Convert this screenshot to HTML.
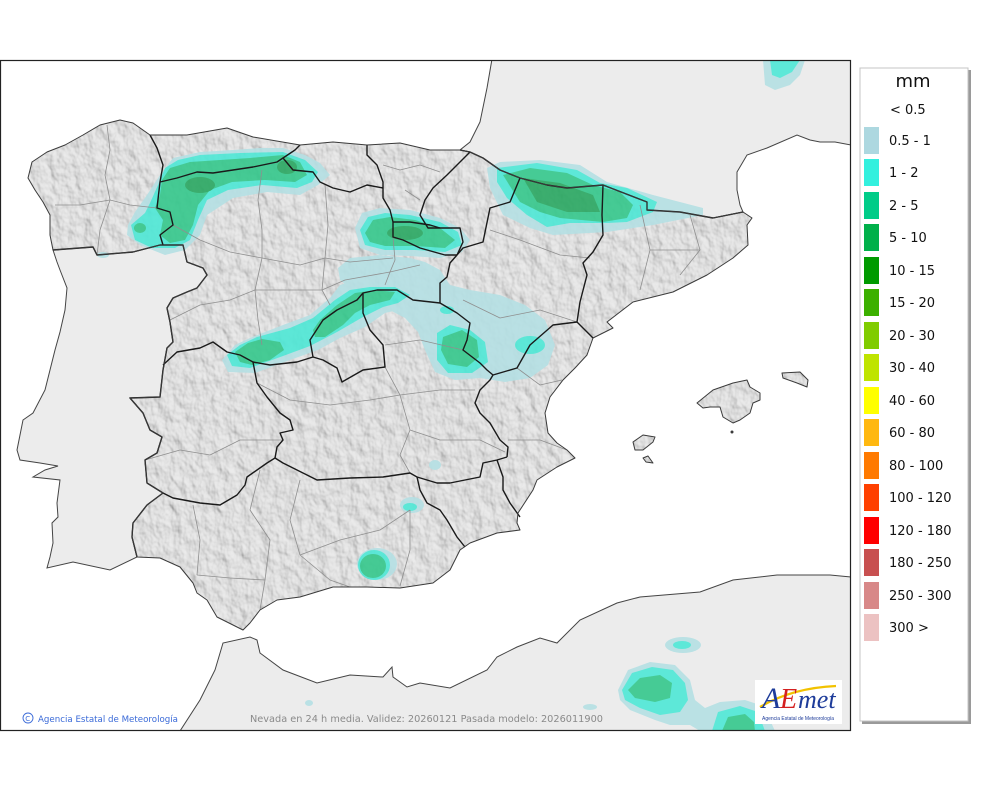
<!DOCTYPE html>
<html><head><meta charset="utf-8"><style>
html,body{margin:0;padding:0;background:#fff;}
svg{display:block;}
</style></head><body>
<svg width="1000" height="790" viewBox="0 0 1000 790" xmlns="http://www.w3.org/2000/svg">
<defs>
<clipPath id="frame"><rect x="1" y="60" width="850" height="670"/></clipPath>
<clipPath id="esclip">
<path id="spainP" d="M28,178 L32,162 L47,152 L65,145 L83,135 L100,125 L120,120 L133,123 L150,135 L160,135 L187,135 L227,128 L253,137 L300,145 L333,142 L367,145 L400,143 L430,150 L460,150 L470,152 L483,158 L500,170 L520,178 L547,185 L567,188 L603,185 L647,202 L647,210 L680,212 L713,218 L743,212 L752,218 L747,225 L748,245 L733,258 L707,275 L673,292 L633,302 L607,322 L613,328 L593,338 L587,355 L575,368 L563,380 L550,397 L545,413 L548,433 L557,443 L567,450 L575,458 L557,467 L537,480 L533,490 L518,513 L517,523 L520,530 L497,533 L470,543 L460,550 L450,570 L433,583 L400,588 L367,587 L333,587 L300,597 L277,600 L260,610 L250,623 L243,630 L217,617 L207,600 L197,593 L193,583 L180,567 L160,558 L137,557 L132,537 L133,523 L147,505 L163,493 L147,483 L145,460 L157,453 L162,437 L150,430 L143,413 L130,398 L160,397 L163,370 L167,348 L173,342 L170,322 L167,308 L173,298 L187,292 L197,288 L207,275 L203,268 L187,262 L183,245 L160,245 L133,252 L97,255 L93,247 L53,250 L50,235 L50,215 L43,202 L35,190 Z"/>
<path d="M697,403 L713,390 L733,383 L747,380 L750,387 L760,393 L760,400 L753,403 L750,413 L740,420 L733,423 L723,417 L720,407 L710,407 L703,408 Z"/>
<path d="M782,373 L800,372 L808,380 L807,387 L797,383 L783,378 Z"/>
<path d="M633,442 L643,435 L655,437 L653,442 L643,450 L635,450 Z"/>
<path d="M643,458 L648,456 L653,463 L646,462 Z"/>
</clipPath>
<filter id="hs" x="0" y="0" width="1000" height="790" filterUnits="userSpaceOnUse">
<feTurbulence type="fractalNoise" baseFrequency="0.09 0.07" numOctaves="3" seed="7"/>
<feDiffuseLighting surfaceScale="3" lighting-color="#ffffff" diffuseConstant="1"><feDistantLight azimuth="315" elevation="50"/></feDiffuseLighting>
</filter>
</defs>

<rect width="1000" height="790" fill="#fff"/>

<g clip-path="url(#frame)">
<!-- foreign land -->
<g fill="#ececec" stroke="#444" stroke-width="1">
<path d="M53,250 L93,247 L97,255 L133,252 L160,245 L183,245 L187,262 L203,268 L207,275 L197,288 L187,292 L173,298 L167,308 L170,322 L173,342 L167,348 L163,370 L160,397 L130,398 L143,413 L150,430 L162,437 L157,453 L145,460 L147,483 L163,493 L147,505 L133,523 L132,537 L137,557 L110,570 L73,562 L47,568 L50,557 L53,543 L52,523 L58,517 L57,503 L60,480 L33,477 L45,470 L58,466 L40,463 L20,460 L17,450 L23,420 L33,413 L45,390 L50,370 L55,350 L60,332 L65,310 L67,288 L60,270 L57,262 Z"/>
<path d="M492,59 L487,88 L480,122 L470,142 L460,150 L470,152 L483,158 L500,170 L520,178 L547,185 L567,188 L603,185 L647,202 L647,210 L680,212 L713,218 L743,212 L740,205 L737,190 L737,172 L747,155 L767,148 L797,135 L810,140 L820,142 L835,142 L851,145 L851,59 Z"/>
<path d="M180,731 L200,700 L215,670 L223,643 L250,637 L257,640 L260,653 L283,670 L317,683 L350,675 L383,677 L392,667 L393,677 L407,687 L420,683 L450,688 L487,670 L497,657 L517,647 L540,638 L557,643 L580,620 L617,603 L640,597 L700,592 L733,580 L777,575 L830,575 L851,577 L851,731 Z"/>
</g>

<!-- Spain land -->
<g clip-path="url(#esclip)">
<rect x="0" y="60" width="851" height="670" fill="#dadada"/>
<rect x="0" y="60" width="851" height="670" filter="url(#hs)" opacity="0.45"/>
</g>

<!-- precipitation -->
<g opacity="0.9">
<!-- big light blue Ebro/Iberico -->
<path fill="#b5e0e4" d="M338,268 L350,258 L380,255 L410,258 L425,262 L440,270 L450,285 L470,290 L500,295 L525,305 L545,320 L555,345 L548,365 L530,378 L505,382 L480,378 L455,380 L435,372 L425,350 L418,332 L405,318 L380,305 L355,292 L340,280 Z"/>
<!-- Blob A -->
<path fill="#b5e0e4" d="M128,225 L135,212 L147,195 L160,175 L173,158 L200,152 L233,150 L260,148 L283,148 L305,155 L320,163 L330,175 L318,185 L300,195 L267,192 L233,198 L207,215 L200,235 L185,250 L165,255 L140,245 L127,235 Z"/>
<ellipse cx="103" cy="255" rx="6" ry="3" fill="#b5e0e4"/>
<path fill="#4ee8d6" d="M158,185 L165,168 L178,160 L200,155 L240,153 L283,152 L305,160 L318,172 L312,182 L297,188 L262,185 L228,190 L207,200 L198,220 L190,240 L175,248 L152,248 L135,240 L131,225 L145,213 L150,203 Z"/>
<path fill="#35c88c" d="M162,180 L170,168 L190,162 L220,160 L250,158 L283,155 L300,162 L307,175 L295,182 L265,180 L232,182 L210,190 L198,205 L193,225 L185,240 L170,243 L160,235 L163,220 L155,208 L160,195 Z"/>
<ellipse cx="140" cy="228" rx="6" ry="5" fill="#35c88c"/>
<ellipse cx="200" cy="185" rx="15" ry="8" fill="#2aa862"/>
<ellipse cx="287" cy="167" rx="10" ry="7" fill="#2aa862"/>
<!-- Blob B -->
<path fill="#b5e0e4" d="M355,228 L362,213 L380,208 L410,210 L440,218 L460,228 L470,240 L462,252 L440,258 L410,256 L380,255 L360,248 Z"/>
<path fill="#4ee8d6" d="M360,230 L368,217 L385,213 L410,215 L440,222 L458,232 L462,245 L445,252 L415,250 L385,250 L365,245 Z"/>
<path fill="#35c88c" d="M365,233 L373,220 L390,217 L415,220 L440,228 L455,240 L445,248 L415,246 L385,246 L370,242 Z"/>
<ellipse cx="405" cy="233" rx="18" ry="7" fill="#2aa862"/>
<!-- Blob C Pyrenees -->
<path fill="#b5e0e4" d="M487,168 L500,162 L540,160 L580,165 L607,182 L653,195 L703,208 L703,215 L653,225 L607,232 L553,235 L530,228 L503,215 L490,188 Z"/>
<path fill="#4ee8d6" d="M497,168 L537,163 L577,170 L600,183 L627,188 L657,202 L653,212 L627,222 L607,223 L570,223 L547,227 L527,215 L507,198 L497,182 Z"/>
<path fill="#35c88c" d="M503,175 L530,168 L567,173 L593,185 L620,192 L633,205 L627,218 L603,222 L560,218 L540,212 L520,202 Z"/>
<path fill="#2aa862" d="M523,178 L560,183 L593,195 L600,212 L567,212 L537,202 Z"/>
<!-- Blob D Sistema Central -->
<path fill="#b5e0e4" d="M222,360 L235,345 L250,338 L283,325 L310,315 L330,298 L340,285 L355,280 L380,283 L405,287 L418,297 L410,307 L385,313 L365,327 L340,338 L318,350 L290,360 L255,373 L228,372 Z"/>
<path fill="#4ee8d6" d="M227,355 L240,345 L257,337 L290,328 L313,318 L335,300 L350,290 L370,287 L395,287 L410,295 L398,303 L383,307 L363,317 L337,332 L310,346 L283,356 L250,368 L232,366 Z"/>
<path fill="#35c88c" d="M235,352 L248,343 L262,339 L280,342 L284,350 L270,360 L252,365 L240,362 Z"/>
<path fill="#35c88c" d="M313,330 L320,320 L337,305 L355,293 L375,290 L395,292 L390,300 L370,305 L355,313 L343,325 L325,337 L315,337 Z"/>
<!-- Blob E -->
<path fill="#4ee8d6" d="M437,333 L450,325 L470,330 L485,342 L488,362 L472,373 L448,373 L437,360 Z"/>
<path fill="#35c88c" d="M443,337 L462,330 L477,340 L479,357 L467,367 L448,364 L441,350 Z"/>
<ellipse cx="530" cy="345" rx="15" ry="9" fill="#4ee8d6"/>
<ellipse cx="447" cy="310" rx="7" ry="4" fill="#4ee8d6"/>
<!-- Blob F Sierra Nevada -->
<ellipse cx="377" cy="564" rx="20" ry="16" fill="#b5e0e4"/>
<ellipse cx="374" cy="565" rx="16" ry="15" fill="#4ee8d6"/>
<ellipse cx="373" cy="566" rx="13" ry="12" fill="#35c88c"/>
<!-- Blob G -->
<ellipse cx="412" cy="505" rx="12" ry="8" fill="#b5e0e4"/>
<ellipse cx="410" cy="507" rx="7" ry="4" fill="#4ee8d6"/>
<ellipse cx="435" cy="465" rx="6" ry="5" fill="#b5e0e4"/>
<!-- Africa -->
<path fill="#b5e0e4" d="M618,690 L628,670 L650,662 L675,665 L690,680 L695,700 L705,708 L720,702 L745,700 L760,705 L770,720 L775,731 L700,731 L690,725 L670,725 L655,720 L630,710 L620,700 Z"/>
<path fill="#4ee8d6" d="M622,690 L632,673 L652,667 L673,670 L685,683 L688,700 L680,712 L660,715 L640,708 L625,700 Z"/>
<path fill="#4ee8d6" d="M712,731 L718,712 L740,706 L758,712 L765,731 Z"/>
<path fill="#35c88c" d="M628,690 L640,678 L660,675 L672,683 L670,698 L655,702 L635,698 Z"/>
<path fill="#35c88c" d="M722,731 L728,717 L745,714 L754,722 L755,731 Z"/>
<ellipse cx="683" cy="645" rx="18" ry="8" fill="#b5e0e4"/>
<ellipse cx="682" cy="645" rx="9" ry="4" fill="#4ee8d6"/>
<ellipse cx="590" cy="707" rx="7" ry="3" fill="#b5e0e4"/>
<ellipse cx="309" cy="703" rx="4" ry="3" fill="#b5e0e4"/>
<path fill="#b5e0e4" d="M763,60 L805,60 L800,75 L790,85 L775,90 L765,85 Z"/>
<path fill="#4ee8d6" d="M770,60 L800,60 L792,72 L780,78 L772,75 Z"/>
</g>

<!-- province borders -->
<g fill="none" stroke="#8f8f8f" stroke-width="0.8" stroke-linejoin="round">
<path d="M107,125 L110,150 L105,175 L110,200"/>
<path d="M55,205 L80,205 L110,200 L130,205 L157,208"/>
<path d="M110,200 L100,230 L97,255"/>
<path d="M173,225 L200,240 L230,252 L262,258 L300,265 L325,258 L350,262 L393,258"/>
<path d="M262,170 L258,200 L262,230 L262,258 L255,290 L258,320 L262,345"/>
<path d="M325,185 L328,225 L325,258 L322,290 L330,305"/>
<path d="M170,320 L200,305 L230,300 L255,290 L290,290 L322,290 L345,280 L390,272 L420,265"/>
<path d="M393,237 L395,260 L390,272 L385,285"/>
<path d="M257,383 L290,400 L330,405 L370,400 L400,395 L440,390 L475,390"/>
<path d="M385,367 L400,395 L410,430 L440,440 L480,440 L505,452"/>
<path d="M385,345 L420,340 L463,350"/>
<path d="M410,430 L400,455 L410,473"/>
<path d="M145,460 L180,450 L210,455 L240,440 L283,440"/>
<path d="M193,505 L200,540 L197,575"/>
<path d="M260,470 L250,510 L270,540 L265,580"/>
<path d="M197,575 L230,578 L265,580 L260,610"/>
<path d="M300,480 L290,520 L300,555"/>
<path d="M300,555 L340,540 L380,530 L410,510"/>
<path d="M410,510 L410,550 L400,586"/>
<path d="M300,555 L330,580 L350,587"/>
<path d="M490,230 L520,240 L560,255 L590,258"/>
<path d="M463,300 L500,318 L540,310 L577,322"/>
<path d="M640,205 L650,250 L640,290"/>
<path d="M690,215 L700,250 L680,275"/>
<path d="M650,250 L700,250"/>
<path d="M517,368 L540,385 L562,380"/>
<path d="M508,440 L540,440 L567,450"/>
<path d="M383,165 L400,170 L420,165 L440,172"/>
<path d="M405,190 L420,200"/>
</g>

<!-- community borders -->
<g fill="none" stroke="#1a1a1a" stroke-width="1.4" stroke-linejoin="round">
<path d="M150,135 L157,148 L163,165 L160,182 L157,208 L170,212 L173,225 L160,235 L163,245"/>
<path d="M160,182 L177,178 L197,172 L213,173 L233,170 L253,167 L277,162 L283,158"/>
<path d="M300,145 L295,150 L283,158 L293,170 L313,172 L320,182 L333,188 L350,192 L367,185 L383,188"/>
<path d="M367,145 L367,155 L377,165 L383,182 L383,198 L390,210 L393,222"/>
<path d="M393,222 L410,222 L430,225 L440,228"/>
<path d="M470,152 L457,165 L447,175 L433,188 L425,200 L420,215 L428,228 L440,228 L460,228 L463,242 L457,255"/>
<path d="M457,255 L463,248 L483,242 L490,208 L510,202 L520,178"/>
<path d="M393,222 L393,237 L403,240 L420,248 L445,255 L457,255"/>
<path d="M457,255 L450,263 L447,277 L440,283 L440,303"/>
<path d="M440,303 L413,300 L397,290 L377,290 L363,293 L357,300 L337,310 L323,320 L310,340 L313,357 L297,362 L270,365 L253,362 L240,355 L227,352 L213,342 L200,348 L177,352 L163,365"/>
<path d="M363,293 L363,313 L370,330 L383,345 L385,367 L363,370 L342,382 L337,368 L323,360 L313,357"/>
<path d="M253,362 L257,383 L267,397 L280,413 L290,420 L293,430 L280,433 L283,440 L277,447 L275,458"/>
<path d="M163,493 L173,498 L200,503 L220,505 L237,495 L245,485 L247,477 L267,463 L275,458 L283,463 L317,480 L350,478 L383,477 L410,473 L417,477 L420,490 L427,503 L440,510 L447,520 L457,537 L465,547"/>
<path d="M417,477 L437,483 L450,483 L480,477 L483,463 L497,460 L507,457"/>
<path d="M497,460 L503,477 L503,490 L510,503 L520,517"/>
<path d="M507,457 L508,447 L500,440 L490,423 L480,413 L475,403 L480,390 L490,380 L493,375"/>
<path d="M440,303 L457,313 L470,323 L467,340 L463,350 L480,363 L487,370 L493,375"/>
<path d="M493,375 L517,368 L530,345 L553,325 L577,322"/>
<path d="M603,185 L602,215 L603,235 L593,252 L583,263 L587,275 L580,302 L577,322 L593,338"/>
<path d="M53,250 L93,247 L97,255 L133,252 L160,245 L183,245 L187,262 L203,268 L207,275 L197,288 L187,292 L173,298 L167,308 L170,322 L173,342 L167,348 L163,370 L160,397 L130,398 L143,413 L150,430 L162,437 L157,453 L145,460 L147,483 L163,493 L147,505 L133,523 L132,537 L137,557"/>
<path d="M460,150 L470,152 L483,158 L500,170 L520,178 L547,185 L567,188 L603,185 L647,202 L647,210 L680,212 L713,218 L743,212"/>
</g>

<!-- coastlines -->
<g fill="none" stroke="#3a3a3a" stroke-width="1" stroke-linejoin="round">
<use href="#spainP"/>
<path d="M697,403 L713,390 L733,383 L747,380 L750,387 L760,393 L760,400 L753,403 L750,413 L740,420 L733,423 L723,417 L720,407 L710,407 L703,408 Z"/>
<path d="M782,373 L800,372 L808,380 L807,387 L797,383 L783,378 Z"/>
<path d="M633,442 L643,435 L655,437 L653,442 L643,450 L635,450 Z"/>
<path d="M643,458 L648,456 L653,463 L646,462 Z"/>
</g>
<circle cx="732" cy="432" r="1.5" fill="#3a3a3a"/>

<!-- bottom text -->
<circle cx="28" cy="718" r="5" fill="none" stroke="#3a6ad8" stroke-width="0.9"/>
<text x="25.3" y="721" font-family="DejaVu Sans, Liberation Sans, sans-serif" font-size="7" fill="#3a6ad8">C</text>
<text x="38" y="722" font-family="DejaVu Sans, Liberation Sans, sans-serif" font-size="9" fill="#3a6ad8" textLength="140" lengthAdjust="spacingAndGlyphs">Agencia Estatal de Meteorología</text>
<text x="250" y="722" font-family="DejaVu Sans, Liberation Sans, sans-serif" font-size="9.5" fill="#8a8a8a" textLength="353" lengthAdjust="spacingAndGlyphs">Nevada en 24 h media. Validez: 20260121 Pasada modelo: 2026011900</text>

<!-- logo -->
<rect x="755" y="680" width="87" height="44" fill="#fff"/>
<path d="M760,707 Q792,688 836,686" fill="none" stroke="#f2c200" stroke-width="2.2"/>
<text x="762" y="708" font-family="Liberation Serif, serif" font-style="italic" font-size="30" fill="#1e3c9a">A</text>
<text x="780" y="708" font-family="Liberation Serif, serif" font-style="italic" font-size="28" fill="#d42020">E</text>
<text x="798" y="708" font-family="Liberation Serif, serif" font-style="italic" font-size="26" fill="#1e3c9a">met</text>
<text x="762" y="720" font-family="Liberation Sans, sans-serif" font-size="5" fill="#1e3c9a" textLength="72" lengthAdjust="spacingAndGlyphs">Agencia Estatal de Meteorología</text>
</g>

<!-- frame -->
<rect x="0.5" y="60.5" width="850" height="670" fill="none" stroke="#222" stroke-width="1.2"/>

<!-- legend -->
<rect x="862" y="70" width="109" height="654" fill="#9a9a9a"/>
<rect x="860" y="68" width="108" height="653" fill="#fff" stroke="#c4c4c4" stroke-width="1"/>
<g font-family="DejaVu Sans, Liberation Sans, sans-serif" fill="#111">
<text x="913" y="87" font-size="18" text-anchor="middle">mm</text>
<text x="890" y="114" font-size="13">&lt; 0.5</text>
<rect x="864" y="127" width="15" height="27" fill="#add8e0"/><text x="889" y="145" font-size="13">0.5 - 1</text>
<rect x="864" y="159" width="15" height="27" fill="#33f0de"/><text x="889" y="177" font-size="13">1 - 2</text>
<rect x="864" y="192" width="15" height="27" fill="#00cc88"/><text x="889" y="210" font-size="13">2 - 5</text>
<rect x="864" y="224" width="15" height="27" fill="#00b04a"/><text x="889" y="242" font-size="13">5 - 10</text>
<rect x="864" y="257" width="15" height="27" fill="#009a00"/><text x="889" y="275" font-size="13">10 - 15</text>
<rect x="864" y="289" width="15" height="27" fill="#3cb000"/><text x="889" y="307" font-size="13">15 - 20</text>
<rect x="864" y="322" width="15" height="27" fill="#80cc00"/><text x="889" y="340" font-size="13">20 - 30</text>
<rect x="864" y="354" width="15" height="27" fill="#bfe400"/><text x="889" y="372" font-size="13">30 - 40</text>
<rect x="864" y="387" width="15" height="27" fill="#ffff00"/><text x="889" y="405" font-size="13">40 - 60</text>
<rect x="864" y="419" width="15" height="27" fill="#ffb810"/><text x="889" y="437" font-size="13">60 - 80</text>
<rect x="864" y="452" width="15" height="27" fill="#ff7a00"/><text x="889" y="470" font-size="13">80 - 100</text>
<rect x="864" y="484" width="15" height="27" fill="#ff4000"/><text x="889" y="502" font-size="13">100 - 120</text>
<rect x="864" y="517" width="15" height="27" fill="#ff0000"/><text x="889" y="535" font-size="13">120 - 180</text>
<rect x="864" y="549" width="15" height="27" fill="#c85050"/><text x="889" y="567" font-size="13">180 - 250</text>
<rect x="864" y="582" width="15" height="27" fill="#d88888"/><text x="889" y="600" font-size="13">250 - 300</text>
<rect x="864" y="614" width="15" height="27" fill="#ecc2c2"/><text x="889" y="632" font-size="13">300 &gt;</text>
</g>
</svg>
</body></html>
